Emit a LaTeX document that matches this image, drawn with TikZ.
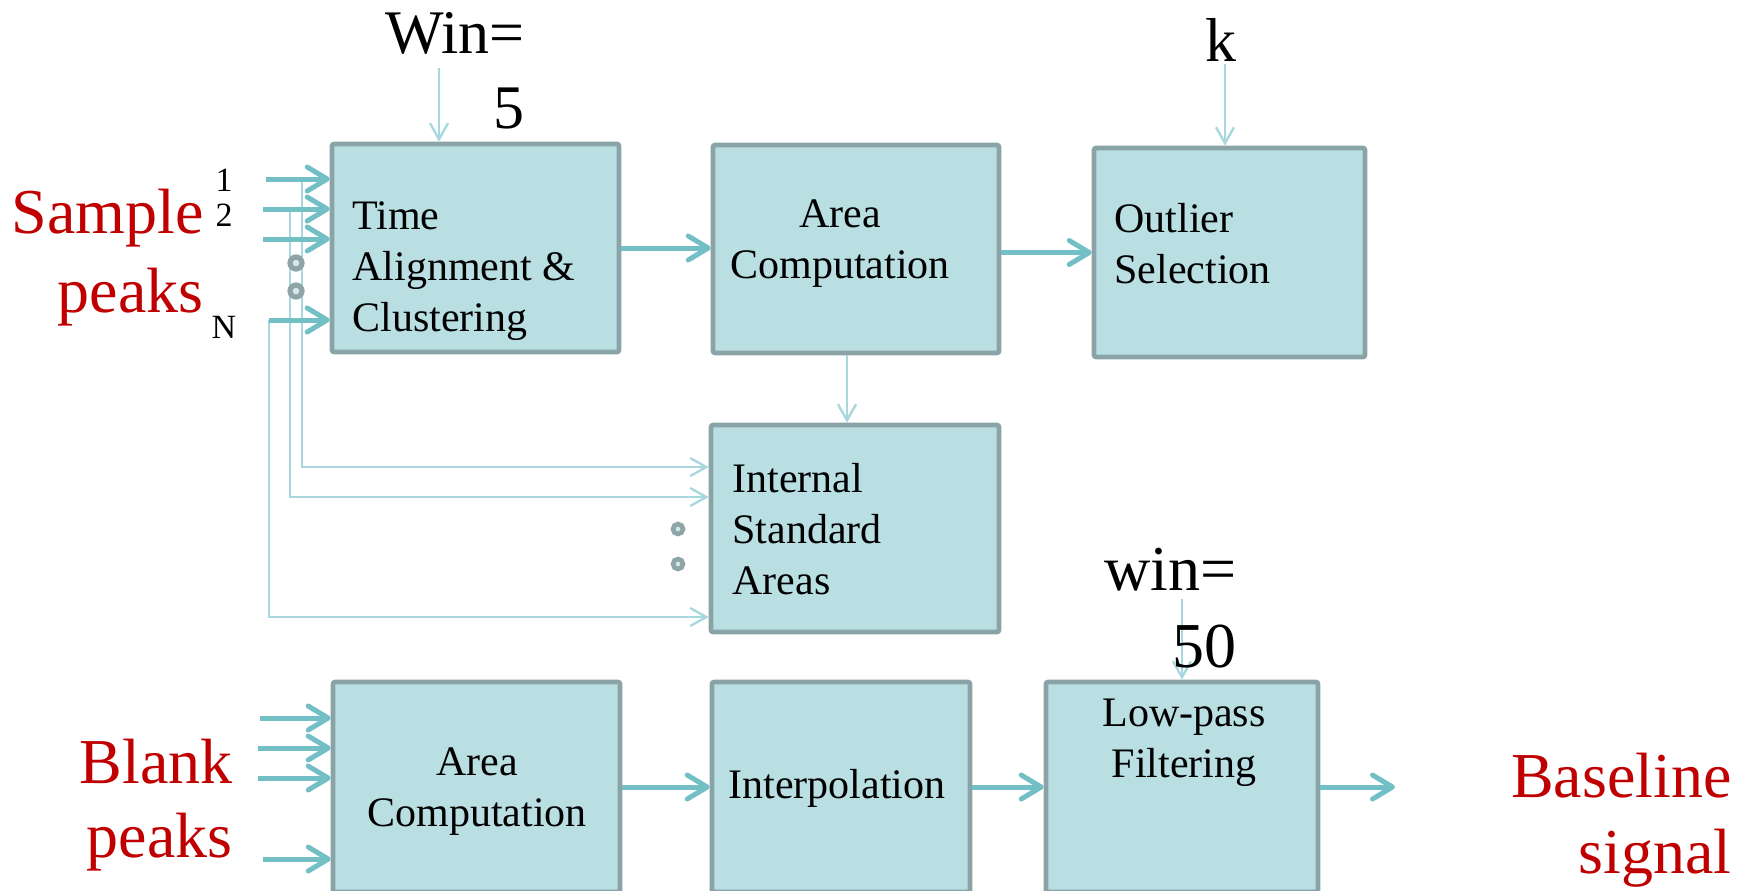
\documentclass[tikz,border=0pt]{standalone}
\usepackage{fontspec}
\setmainfont{Liberation Serif}
\usetikzlibrary{arrows.meta}
\definecolor{boxfill}{HTML}{B9DFE3}
\definecolor{boxedge}{HTML}{8AA3A6}
\definecolor{flow}{HTML}{73BFC6}
\definecolor{paleflow}{HTML}{A8D8DD}
\definecolor{darkred}{HTML}{C00000}
\definecolor{dotgray}{HTML}{8EA5A8}
\definecolor{dotfill}{HTML}{D5E6E8}

\begin{document}
\begin{tikzpicture}[x=0.5pt,y=-0.5pt,
  blk/.style={rectangle,draw=boxedge,fill=boxfill,line width=2.3pt,inner sep=0pt,rounded corners=1pt},
  boxtxt/.style={inner sep=0pt,font=\fontsize{21}{25.5}\selectfont},
  redtxt/.style={inner sep=0pt,text=darkred,align=right,anchor=north east,font=\fontsize{32}{39.5}\selectfont},
  parm/.style={inner sep=0pt,align=right,anchor=north east,font=\fontsize{31}{37.5}\selectfont},
  idx/.style={inner sep=0pt,anchor=base,font=\fontsize{17}{20}\selectfont},
  flowarr/.style={draw=flow,line width=2.5pt,-{Straight Barb[length=10pt,width=12pt,round]}},
  thinarr/.style={draw=paleflow,line width=1.2pt,-{Straight Barb[length=8pt,width=9pt]}},
  dotc/.style={circle,draw=dotgray,fill=dotfill,line width=2.6pt,minimum size=6pt,inner sep=0pt}]
   \useasboundingbox (0,0) rectangle (1750,890);
   \clip (0,0) rectangle (1750,890);

   % blocks
   \node[blk,minimum width=143.5pt,minimum height=104pt] (ta) at (475.5,248) {};
   \node[blk,minimum width=143pt,minimum height=104pt] (ac) at (856,249) {};
   \node[blk,minimum width=135.5pt,minimum height=104.5pt] (os) at (1229.5,252.5) {};
   \node[blk,minimum width=144pt,minimum height=103.5pt] (isa) at (855,528.5) {};
   \node[blk,minimum width=143.5pt,minimum height=105pt] (ac2) at (476.5,787) {};
   \node[blk,minimum width=129pt,minimum height=105pt] (ip) at (841,787) {};
   \node[blk,minimum width=136pt,minimum height=105pt] (lp) at (1182,787) {};

   % block texts
   \node[boxtxt,align=left,anchor=north west] (tatxt) at (352,201) {Time\\Alignment \&\\Clustering};
   \node[boxtxt,align=center,anchor=north] (actxt) at (840,199) {Area\\Computation};
   \node[boxtxt,align=left,anchor=north west] (ostxt) at (1114,203) {Outlier\\Selection};
   \node[boxtxt,align=left,anchor=north west] (isatxt) at (732,463) {Internal\\Standard\\Areas};
   \node[boxtxt,align=center,anchor=north] (ac2txt) at (477,747) {Area\\Computation};
   \node[boxtxt,anchor=north] (iptxt) at (837,769) {Interpolation};
   \node[boxtxt,align=center,anchor=north] (lptxt) at (1184,699) {Low-pass\\Filtering};

   % sample inputs
   \coordinate (s1) at (266,179);
   \coordinate (s2) at (263,209);
   \coordinate (s3) at (263,239);
   \coordinate (sN) at (269,320);
   \coordinate (b1) at (302,179);
   \coordinate (b2) at (290,209);
   \draw[thinarr] (b1) |- ([yshift=30.75pt]isa.west);
   \draw[thinarr] (b2) |- ([yshift=15.75pt]isa.west);
   \draw[thinarr] (sN) |- ([yshift=-44.25pt]isa.west);
   \foreach \c in {s1,s2,s3,sN}
     \draw[flowarr] (\c) -- (\c -| ta.west);

   % blank inputs
   \coordinate (bl1) at (260,718);
   \coordinate (bl2) at (258,748);
   \coordinate (bl3) at (258,778);
   \coordinate (blN) at (263,859);
   \foreach \c in {bl1,bl2,bl3,blN}
     \draw[flowarr] (\c) -- (\c -| ac2.west);

   % main flow
   \draw[flowarr] (ta.east) -- (ta.east -| ac.west);
   \draw[flowarr] (ac.east |- os.west) -- (os.west);
   \draw[thinarr] ([xshift=-4.5pt]ac.south) -- ([xshift=-4.5pt]ac.south |- isa.north);
   \draw[flowarr] (ac2.east) -- (ac2.east -| ip.west);
   \draw[flowarr] (ip.east) -- (ip.east -| lp.west);
   \coordinate (out) at (1395,787);
   \draw[flowarr] (lp.east) -- (out);

   % parameters
   \coordinate (wA) at (439,68);
   \coordinate (kA) at (1225,64);
   \coordinate (wB) at (1182,599);
   \draw[thinarr] (wA) -- (wA |- ta.north);
   \draw[thinarr] (kA) -- (kA |- os.north);
   \draw[thinarr] (wB) -- (wB |- lp.north);
   \node[parm] (winA) at (525,12) {Win=\\5};
   \node[parm,anchor=north] (kval) at (1221,18) {k};
   \node[parm,font=\fontsize{32}{38.5}\selectfont] (winB) at (1237,548) {win=\\50};

   % labels
   \node[redtxt] (sample) at (204,189) {Sample\\peaks};
   \node[redtxt,font=\fontsize{32}{37}\selectfont] (blank) at (233,739) {Blank\\peaks};
   \node[redtxt,font=\fontsize{32}{38}\selectfont] (basesig) at (1732,753) {Baseline\\signal};
   \node[idx] (i1) at (224,191) {1};
   \node[idx] (i2) at (224,226) {2};
   \node[idx] (iN) at (224,338) {N};

   % ellipsis dots
   \node[dotc] (dt1) at (296,263) {};
   \node[dotc] (dt2) at (296,291) {};
   \node[dotc,minimum size=5pt,line width=2.3pt] (dt3) at (678,529) {};
   \node[dotc,minimum size=5pt,line width=2.3pt] (dt4) at (678,564) {};
\end{tikzpicture}
\end{document}
